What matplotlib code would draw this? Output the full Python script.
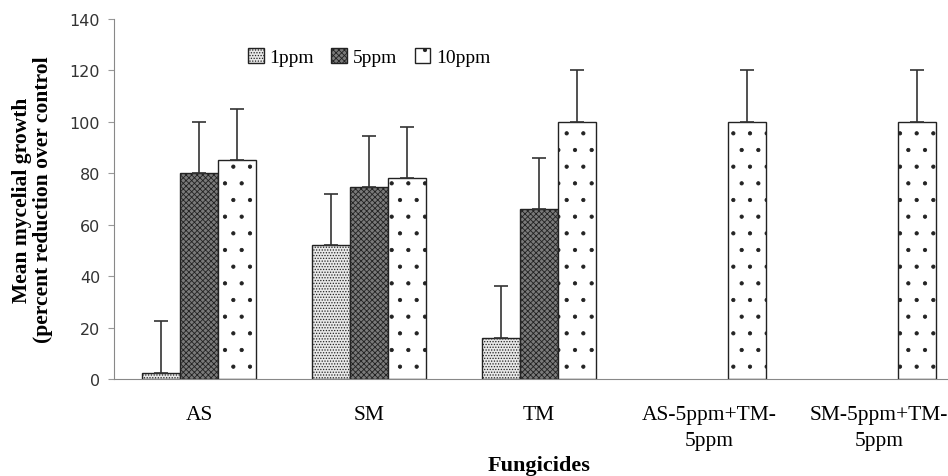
import matplotlib.pyplot as plt
import numpy as np

plt.rcParams['hatch.linewidth'] = 0.6

# data
categories = ['AS', 'SM', 'TM', 'AS-5ppm+TM-\n5ppm', 'SM-5ppm+TM-\n5ppm']
series = ['1ppm', '5ppm', '10ppm']
vals_1ppm = [2.5, 52, 16, 0, 0]
vals_5ppm = [80, 74.5, 66, 0, 0]
vals_10ppm = [85, 78, 100, 100, 100]
err_1ppm = [20, 20, 20, 0, 0]
err_5ppm = [20, 20, 20, 0, 0]
err_10ppm = [20, 20, 20, 20, 20]

fig = plt.figure(figsize=(9.48, 4.77), dpi=100)
ax = fig.add_axes([114/948, 97/477, 850/948, 360/477])

x = np.arange(len(categories))
w = 0.225
styles = [
    dict(facecolor='#e8e8e8', hatch='......'),
    dict(facecolor='#7a7a7a', hatch='xxxxxx'),
    dict(facecolor='white', hatch='.'),
]
data = [vals_1ppm, vals_5ppm, vals_10ppm]
errs = [err_1ppm, err_5ppm, err_10ppm]

for i, (name, v, e, st) in enumerate(zip(series, data, errs, styles)):
    pos = x + (i - 1) * w
    v = np.array(v)
    e = np.array(e)
    show = v > 0
    ax.bar(pos[show], v[show], w, edgecolor='#222222', linewidth=1.0,
           label=name, **st)
    ax.errorbar(pos[show], v[show], yerr=[np.zeros(show.sum()), e[show]],
                fmt='none', ecolor='#333333', elinewidth=1.2, capsize=5,
                capthick=1.2)

ax.set_xlim(-0.5, 4.5)
ax.set_ylim(0, 140)
ax.set_yticks(range(0, 141, 20))
ax.set_xticks(x)
ax.set_xticklabels(categories, family='Liberation Serif', fontsize=15.5,
                   linespacing=1.45)
ax.tick_params(axis='x', length=0, pad=19)
ax.tick_params(axis='y', length=4, color='#999999', labelsize=11.5,
               labelcolor='#333333', pad=6)

for s in ['top', 'right']:
    ax.spines[s].set_visible(False)
ax.spines['left'].set_color('#888888')
ax.spines['bottom'].set_color('#888888')

ax.set_ylabel('Mean mycelial growth\n(percent reduction over control',
              family='Liberation Serif', fontweight='bold', fontsize=15.5,
              labelpad=12, linespacing=1.05)
ax.set_xlabel('Fungicides', family='Liberation Serif', fontweight='bold',
              fontsize=16, labelpad=4)

ax.legend(loc='center left', bbox_to_anchor=(0.137, 0.895), ncol=3,
          frameon=False, prop={'family': 'Liberation Serif', 'size': 14},
          handlelength=0.8, handleheight=0.8, handletextpad=0.3,
          columnspacing=0.9)

fig.savefig('out.png', dpi=100)
